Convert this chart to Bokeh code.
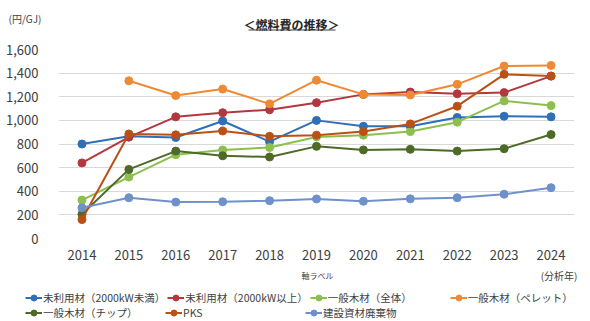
from bokeh.plotting import figure
from bokeh.layouts import column
from bokeh.models import (FactorRange, Range1d, Legend, LegendItem, Label,
                          NumeralTickFormatter, FixedTicker, BoxAnnotation)
from bokeh.embed import file_html
from bokeh.resources import INLINE

years = ["2014", "2015", "2016", "2017", "2018", "2019", "2020", "2021", "2022", "2023", "2024"]

s_mirai_small = [800, 865, 855, 995, 820, 1000, 950, 950, 1025, 1035, 1030]
s_mirai_large = [640, 858, 1030, 1065, 1090, 1150, 1220, 1240, 1225, 1235, 1375]
s_ippan_all = [325, 520, 710, 750, 770, 860, 875, 905, 985, 1165, 1125]
s_ippan_pellet = [None, 1335, 1210, 1265, 1140, 1340, 1220, 1215, 1305, 1460, 1465]
s_ippan_chip = [205, 585, 740, 700, 690, 780, 750, 755, 740, 760, 880]
s_pks = [160, 885, 878, 910, 865, 875, 905, 970, 1120, 1390, 1375]
s_kensetsu = [260, 345, 308, 311, 320, 335, 315, 336, 345, 375, 430]

names = ["未利用材（2000kW未満）", "未利用材（2000kW以上）", "一般木材（全体）",
         "一般木材（ペレット）", "一般木材（チップ）", "PKS", "建設資材廃棄物"]
series = [s_mirai_small, s_mirai_large, s_ippan_all, s_ippan_pellet,
          s_ippan_chip, s_pks, s_kensetsu]
colors = ["#2E6FB7", "#B2373E", "#8CBF4E", "#EF8A34", "#4D6B26", "#BB5016", "#6E90CB"]

y_ticks = [0, 200, 400, 600, 800, 1000, 1200, 1400, 1600]

FONT = "Noto Sans CJK JP"
TXT = "#404040"


def blank_fig(h):
    f = figure(width=590, height=h, x_range=Range1d(0, 590), y_range=Range1d(0, h),
               output_backend="svg", toolbar_location=None,
               x_axis_location=None, y_axis_location=None,
               min_border=0, min_border_left=0, min_border_right=0,
               min_border_top=0, min_border_bottom=0, frame_align=False)
    f.outline_line_color = None
    f.grid.visible = False
    return f


# ---- top strip: unit and title ----
top = blank_fig(36)
top.add_layout(Label(x=8, y=18, x_units="screen", y_units="screen",
                     text="(円/GJ)", text_font=FONT, text_font_size="10px",
                     text_color=TXT, text_baseline="middle"))
top.add_layout(Label(x=291, y=12, x_units="screen", y_units="screen",
                     text="＜燃料費の推移＞", text_font=FONT, text_font_size="12px",
                     text_font_style="bold", text_color="#262626",
                     text_align="center", text_baseline="middle"))
top.add_layout(BoxAnnotation(left=248, right=335, bottom=6, top=7,
                             left_units="screen", right_units="screen",
                             bottom_units="screen", top_units="screen",
                             fill_color="#404040", fill_alpha=1, line_alpha=0))

# ---- main chart ----
p = figure(width=590, height=226, x_range=FactorRange(*years, range_padding=0),
           y_range=Range1d(0, 1600), output_backend="svg", toolbar_location=None,
           min_border_left=58, min_border_right=16, min_border_top=13,
           min_border_bottom=23, frame_align=False)
p.outline_line_color = None
p.xgrid.grid_line_color = None
p.ygrid.grid_line_color = "#D9D9D9"
p.ygrid.grid_line_width = 1
p.yaxis.ticker = FixedTicker(ticks=y_ticks)
p.yaxis.formatter = NumeralTickFormatter(format="0,0")
for ax in (p.xaxis[0], p.yaxis[0]):
    ax.axis_line_color = None
    ax.major_tick_line_color = None
    ax.minor_tick_line_color = None
    ax.major_label_text_font = FONT
    ax.major_label_text_font_size = "13px"
    ax.major_label_text_color = TXT
p.yaxis.major_label_standoff = 14
p.xaxis.major_label_standoff = 5

for name, vals, c in zip(names, series, colors):
    xs = [y for y, v in zip(years, vals) if v is not None]
    ys = [v for v in vals if v is not None]
    p.line(xs, ys, line_color=c, line_width=2)
    p.scatter(xs, ys, size=8, fill_color=c, line_color=c)

# ---- bottom strip: axis notes and legend ----
bot = blank_fig(59)
bot.add_layout(Label(x=317, y=46, x_units="screen", y_units="screen",
                     text="軸ラベル", text_font=FONT, text_font_size="8px",
                     text_color=TXT, text_align="center", text_baseline="middle"))
bot.add_layout(Label(x=577, y=46, x_units="screen", y_units="screen",
                     text="(分析年)", text_font=FONT, text_font_size="10px",
                     text_color=TXT, text_align="right", text_baseline="middle"))

legend_items = []
for name, vals, c in zip(names, series, colors):
    idx = [i for i, v in enumerate(vals) if v is not None]
    ys = [v for v in vals if v is not None]
    # hidden proxies carrying the same series, used only for legend swatches
    r1 = bot.line(idx, ys, line_color=c, line_width=2, visible=False)
    r2 = bot.scatter(idx, ys, size=6, fill_color=c, line_color=c, visible=False)
    legend_items.append(LegendItem(label=name, renderers=[r1, r2]))

for row, vy in ((legend_items[:4], 16.5), (legend_items[4:], 1.5)):
    lg = Legend(items=row, orientation="horizontal", location=(25, vy),
                label_text_font=FONT, label_text_font_size="10.5px",
                label_text_color=TXT, glyph_width=17, glyph_height=15,
                label_standoff=1, label_width=120, label_height=15, spacing=2,
                padding=0, margin=0, border_line_color=None,
                background_fill_alpha=0, inactive_fill_alpha=0)
    bot.add_layout(lg, "center")

layout = column(top, p, bot, spacing=0)
open("out.html", "w").write(file_html(layout, INLINE))
